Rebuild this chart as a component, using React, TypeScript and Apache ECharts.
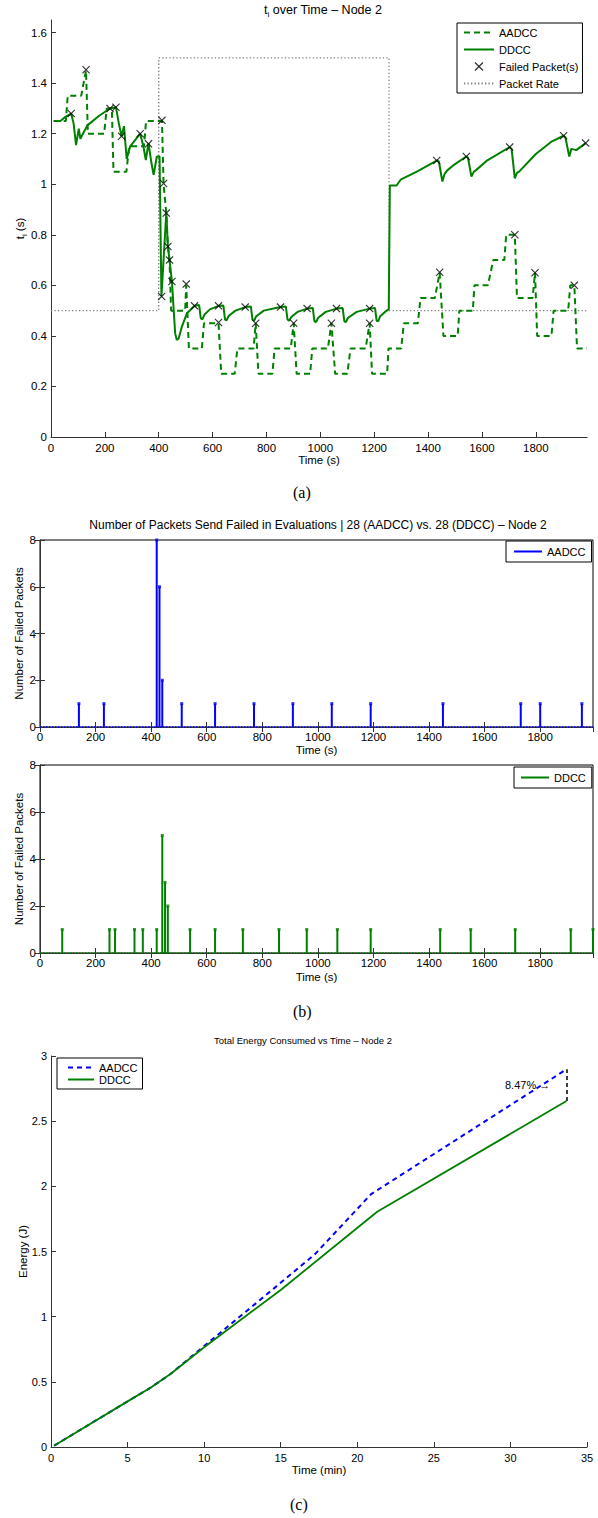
import React, { useEffect, useRef } from "react";
import * as echarts from "echarts";

// ---------- Data ----------
// (a) t_i over time, [time (s), t_i (s)]
const ddccTi: [number, number][] = [
  [10, 1.25], [35, 1.25], [55, 1.268], [75, 1.28], [84, 1.24], [93, 1.155], [103, 1.22], [109, 1.18],
  [135, 1.233], [180, 1.272], [219, 1.3], [241, 1.305], [252, 1.24], [262, 1.19], [271, 1.23], [281, 1.1],
  [294, 1.15], [331, 1.2], [343, 1.15], [352, 1.096], [362, 1.163], [372, 1.09], [381, 1.037], [393, 1.11],
  [403, 1.11], [410, 0.556], [428, 0.886], [434, 0.754], [440, 0.7], [449, 0.615], [461, 0.41], [467, 0.384],
  [474, 0.39], [486, 0.437], [505, 0.49], [533, 0.519], [550, 0.522], [556, 0.47], [562, 0.465], [570, 0.485],
  [590, 0.505], [622, 0.519], [640, 0.52], [646, 0.465], [652, 0.462], [660, 0.48], [685, 0.5], [721, 0.514],
  [742, 0.516], [748, 0.465], [754, 0.46], [762, 0.478], [790, 0.5], [852, 0.514], [872, 0.516], [878, 0.465],
  [884, 0.46], [892, 0.475], [915, 0.495], [951, 0.508], [972, 0.51], [978, 0.458], [984, 0.455], [992, 0.472],
  [1020, 0.495], [1060, 0.508], [1083, 0.51], [1089, 0.458], [1095, 0.455], [1103, 0.472], [1135, 0.495],
  [1183, 0.508], [1203, 0.51], [1209, 0.46], [1215, 0.458], [1222, 0.478], [1240, 0.495], [1254, 0.506],
  [1258, 0.995], [1283, 0.995], [1298, 1.018], [1360, 1.051], [1432, 1.094], [1440, 1.09], [1453, 1.011],
  [1461, 1.04], [1471, 1.055], [1500, 1.08], [1542, 1.11], [1548, 1.105], [1561, 1.03], [1570, 1.05],
  [1577, 1.055], [1620, 1.095], [1703, 1.147], [1710, 1.14], [1722, 1.023], [1730, 1.045], [1738, 1.05],
  [1800, 1.12], [1860, 1.17], [1903, 1.192], [1910, 1.185], [1924, 1.11], [1932, 1.14], [1940, 1.138],
  [1950, 1.135], [1985, 1.163],
];

const aadccTi: [number, number][] = [
  [10, 1.25], [55, 1.25], [62, 1.35], [112, 1.35], [130, 1.45], [137, 1.2], [197, 1.2], [207, 1.3],
  [226, 1.3], [232, 1.05], [280, 1.05], [290, 1.15], [345, 1.15], [353, 1.25], [403, 1.25], [412, 1.25],
  [418, 1.0], [428, 0.886], [434, 0.754], [440, 0.7], [446, 0.5], [498, 0.5], [502, 0.6], [512, 0.35],
  [560, 0.35], [568, 0.45], [622, 0.45], [632, 0.25], [682, 0.25], [692, 0.35], [752, 0.35], [760, 0.45],
  [770, 0.25], [822, 0.25], [830, 0.35], [890, 0.35], [901, 0.45], [912, 0.25], [962, 0.25], [970, 0.35],
  [1028, 0.35], [1041, 0.45], [1055, 0.25], [1100, 0.25], [1112, 0.35], [1168, 0.35], [1183, 0.45],
  [1192, 0.25], [1248, 0.25], [1253, 0.35], [1300, 0.35], [1310, 0.45], [1362, 0.45], [1372, 0.55],
  [1425, 0.55], [1443, 0.65], [1457, 0.4], [1510, 0.4], [1516, 0.5], [1566, 0.5], [1572, 0.6], [1622, 0.6],
  [1642, 0.7], [1683, 0.7], [1690, 0.8], [1722, 0.8], [1730, 0.55], [1788, 0.55], [1797, 0.65], [1805, 0.4],
  [1858, 0.4], [1866, 0.5], [1920, 0.5], [1928, 0.6], [1943, 0.6], [1953, 0.35], [1990, 0.35],
];

const failedMarks: [number, number][] = [
  [75, 1.28], [130, 1.453], [219, 1.3], [241, 1.305], [262, 1.19], [331, 1.2], [362, 1.16], [412, 1.253],
  [411, 0.556], [418, 1.003], [428, 0.886], [434, 0.754], [440, 0.7], [449, 0.615], [502, 0.605],
  [533, 0.519], [622, 0.519], [622, 0.453], [721, 0.514], [760, 0.45], [852, 0.514], [901, 0.45],
  [951, 0.508], [1041, 0.45], [1060, 0.508], [1183, 0.508], [1183, 0.45], [1432, 1.094], [1443, 0.652],
  [1542, 1.11], [1703, 1.147], [1722, 0.8], [1797, 0.65], [1903, 1.192], [1943, 0.6], [1985, 1.163],
];

const packetRate: [number, number][] = [
  [0, 0.5], [400, 0.5], [400, 1.5], [1255, 1.5], [1255, 0.5], [1990, 0.5],
];

// (b) failed packets per evaluation
const aadccFailTimes = [140, 230, 420, 430, 440, 510, 630, 770, 910, 1050, 1190, 1450, 1730, 1800, 1950];
const aadccFailCounts = [1, 1, 8, 6, 2, 1, 1, 1, 1, 1, 1, 1, 1, 1, 1];
const ddccFailTimes = [80, 250, 270, 340, 370, 420, 440, 450, 460, 540, 630, 730, 860, 960, 1070, 1190, 1440, 1550, 1710, 1910, 1990];
const ddccFailCounts = [1, 1, 1, 1, 1, 1, 5, 3, 2, 1, 1, 1, 1, 1, 1, 1, 1, 1, 1, 1, 1];
const stemBaseline: [number, number][] = [[0, 0], [1990, 0]];

// (c) total energy, [time (min), energy (J)]
const energyAadcc: [number, number][] = [
  [0.2, 0.01], [5, 0.35], [6.5, 0.455], [7.8, 0.56], [10, 0.775], [13, 1.065], [17.2, 1.475], [20.9, 1.94], [33.66, 2.898],
];
const energyDdcc: [number, number][] = [
  [0.2, 0.01], [5, 0.35], [6.5, 0.455], [7.8, 0.56], [10, 0.765], [15, 1.205], [21.3, 1.805], [33.66, 2.654],
];
const savingLabel = "8.47% \u2192";

// ---------- Styles ----------
const FONT = "'Liberation Sans', Arial, Helvetica, sans-serif";
const GREEN = "#008000";
const BLUE = "#0000ff";
const AXIS = "#333";
const FS = 11.5;
const X_SHAPE = "path://M0,1 L1,0 L5,4 L9,0 L10,1 L6,5 L10,9 L9,10 L5,6 L1,10 L0,9 L4,5 Z";
const HIDE_SYMBOL = { color: "rgba(0,0,0,0)", borderColor: "rgba(0,0,0,0)", borderWidth: 0 };

const tickInside = { show: true, inside: true, length: 5, lineStyle: { color: AXIS } };
const plainNum = (v: number) => String(v);

function xAxisBase(gridIndex: number, max: number, interval: number, extra: any = {}) {
  return {
    type: "value",
    gridIndex,
    min: 0,
    max,
    interval,
    splitLine: { show: false },
    axisLine: { show: true, onZero: false, lineStyle: { color: AXIS, width: 1 } },
    axisTick: tickInside,
    axisLabel: { color: "#000", fontSize: FS, margin: 5, showMaxLabel: false, fontFamily: FONT, formatter: plainNum },
    nameLocation: "middle",
    nameMoveOverlap: false,
    nameTextStyle: { color: "#000", fontSize: FS, fontFamily: FONT },
    ...extra,
  };
}

function yAxisBase(gridIndex: number, max: number, interval: number, extra: any = {}) {
  return {
    type: "value",
    gridIndex,
    min: 0,
    max,
    interval,
    splitLine: { show: false },
    axisLine: { show: true, onZero: false, lineStyle: { color: AXIS, width: 1 } },
    axisTick: tickInside,
    axisLabel: { color: "#000", fontSize: FS, margin: 4, showMaxLabel: false, fontFamily: FONT, formatter: plainNum },
    nameLocation: "middle",
    nameMoveOverlap: false,
    nameTextStyle: { color: "#000", fontSize: FS, fontFamily: FONT },
    ...extra,
  };
}

function stemSeries(name: string, times: number[], counts: number[], color: string, xi: number, yi: number) {
  const pts = times.map((t, i) => [t, counts[i]]);
  return [
    {
      type: "line",
      name,
      xAxisIndex: xi,
      yAxisIndex: yi,
      data: stemBaseline,
      symbol: "none",
      lineStyle: { color, width: 1.5, type: [1.5, 1.5] },
      itemStyle: { color },
      z: 2,
    },
    {
      type: "bar",
      name: name + "-stems",
      xAxisIndex: xi,
      yAxisIndex: yi,
      data: pts,
      barWidth: 2,
      itemStyle: { color },
      z: 3,
    },
    {
      type: "scatter",
      name: name + "-tops",
      xAxisIndex: xi,
      yAxisIndex: yi,
      data: pts,
      symbol: "rect",
      symbolSize: 3,
      itemStyle: { color },
      z: 4,
    },
  ];
}

const legendBase = {
  orient: "vertical",
  borderColor: "#000",
  borderWidth: 1,
  borderRadius: 0,
  backgroundColor: "#fff",
  textStyle: { fontSize: 11, color: "#000", fontFamily: FONT },
};

export default function App() {
  const ref = useRef<HTMLDivElement>(null);

  useEffect(() => {
    if (!ref.current) return;
    const chart = echarts.init(ref.current, undefined, { renderer: "svg" });

    const richSub = (fs: number) => ({
      n: { fontSize: fs, fontWeight: "normal", color: "#000", fontFamily: FONT, lineHeight: fs + 4, verticalAlign: "middle" },
      s: { fontSize: fs * 0.65, fontWeight: "normal", color: "#000", fontFamily: FONT, lineHeight: fs + 4, verticalAlign: "bottom" },
    });

    const option: any = {
      animation: false,
      backgroundColor: "#fff",
      textStyle: { fontFamily: FONT },
      title: [
        {
          text: "{n|t}{s|i}{n| over Time \u2013 Node 2}",
          left: 323,
          top: 2,
          textAlign: "center",
          padding: 0,
          textStyle: { fontWeight: "normal", rich: richSub(12.5) },
        },
        {
          text: "Number of Packets Send Failed in Evaluations | 28 (AADCC) vs. 28 (DDCC) \u2013 Node 2",
          left: 318,
          top: 519,
          textAlign: "center",
          padding: 0,
          textStyle: { fontSize: 12, fontWeight: "normal", color: "#000", fontFamily: FONT },
        },
        {
          text: "Total Energy Consumed vs Time \u2013 Node 2",
          left: 303,
          top: 1035,
          textAlign: "center",
          padding: 0,
          textStyle: { fontSize: 9.5, fontWeight: "normal", color: "#000", fontFamily: FONT },
        },
      ],
      grid: [
        { left: 51, top: 20, width: 536, height: 417 },
        { left: 40, top: 540, width: 553, height: 187, show: true, borderColor: "#000", borderWidth: 1 },
        { left: 40, top: 765, width: 553, height: 188, show: true, borderColor: "#000", borderWidth: 1 },
        { left: 51, top: 1056, width: 536, height: 391 },
      ],
      xAxis: [
        xAxisBase(0, 1990, 200, { name: "Time (s)", nameGap: 17 }),
        xAxisBase(1, 1990, 200, { name: "Time (s)", nameGap: 17, axisLabel: { color: "#000", fontSize: FS, margin: 4, showMaxLabel: false, fontFamily: FONT, formatter: plainNum } }),
        xAxisBase(1, 1990, 200, { position: "top", axisLabel: { show: false }, axisLine: { show: false } }),
        xAxisBase(2, 1990, 200, { name: "Time (s)", nameGap: 18, axisLabel: { color: "#000", fontSize: FS, margin: 4, showMaxLabel: false, fontFamily: FONT, formatter: plainNum } }),
        xAxisBase(2, 1990, 200, { position: "top", axisLabel: { show: false }, axisLine: { show: false } }),
        xAxisBase(3, 35, 5, { name: "Time (min)", nameGap: 17, axisLabel: { color: "#000", fontSize: 11, margin: 5, showMaxLabel: true, fontFamily: FONT, formatter: plainNum } }),
      ],
      yAxis: [
        yAxisBase(0, 1.65, 0.2, {
          name: "{n|t}{s|i}{n| (s)}",
          nameGap: 23,
          nameTextStyle: { rich: richSub(FS) },
        }),
        yAxisBase(1, 8, 2, { name: "Number of Failed Packets", nameGap: 15, axisLabel: { color: "#000", fontSize: FS, margin: 4, showMaxLabel: true, fontFamily: FONT, formatter: plainNum } }),
        yAxisBase(1, 8, 2, { position: "right", axisLabel: { show: false }, axisLine: { show: false } }),
        yAxisBase(2, 8, 2, { name: "Number of Failed Packets", nameGap: 15, axisLabel: { color: "#000", fontSize: FS, margin: 4, showMaxLabel: true, fontFamily: FONT, formatter: plainNum } }),
        yAxisBase(2, 8, 2, { position: "right", axisLabel: { show: false }, axisLine: { show: false } }),
        yAxisBase(3, 3, 0.5, { name: "Energy (J)", nameGap: 22, axisLabel: { color: "#000", fontSize: 11, margin: 4, showMaxLabel: true, fontFamily: FONT, formatter: plainNum } }),
      ],
      legend: [
        {
          ...legendBase,
          left: 457,
          top: 23,
          data: [
            { name: "AADCC", itemStyle: HIDE_SYMBOL },
            { name: "DDCC", itemStyle: HIDE_SYMBOL },
            { name: "Failed Packet(s)" },
            { name: "Packet Rate", itemStyle: HIDE_SYMBOL },
          ],
          itemWidth: 30,
          itemHeight: 9,
          itemGap: 6,
          padding: [4, 4, 4, 6],
        },
        {
          ...legendBase,
          left: 506,
          top: 541,
          data: [{ name: "AADCC-b", itemStyle: HIDE_SYMBOL, lineStyle: { type: "solid", width: 2 } }],
          formatter: () => "AADCC",
          itemWidth: 28,
          itemHeight: 9,
          padding: [5, 6, 5, 7],
        },
        {
          ...legendBase,
          left: 514,
          top: 767,
          data: [{ name: "DDCC-b", itemStyle: HIDE_SYMBOL, lineStyle: { type: "solid", width: 2 } }],
          formatter: () => "DDCC",
          itemWidth: 28,
          itemHeight: 9,
          padding: [5, 6, 5, 6],
        },
        {
          ...legendBase,
          left: 57,
          top: 1058,
          data: [
            { name: "AADCC-c", itemStyle: HIDE_SYMBOL },
            { name: "DDCC-c", itemStyle: HIDE_SYMBOL },
          ],
          formatter: (n: string) => n.replace("-c", ""),
          itemWidth: 26,
          itemHeight: 13,
          itemGap: 1,
          padding: [4, 5, 4, 10],
        },
      ],
      graphic: [
        { type: "text", left: 293, top: 484, style: { text: "(a)", font: "16px 'Liberation Serif', 'Times New Roman', serif", fill: "#000" } },
        { type: "text", left: 293, top: 1003, style: { text: "(b)", font: "16px 'Liberation Serif', 'Times New Roman', serif", fill: "#000" } },
        { type: "text", left: 290, top: 1496, style: { text: "(c)", font: "16px 'Liberation Serif', 'Times New Roman', serif", fill: "#000" } },
      ],
      series: [
        {
          type: "line",
          name: "Packet Rate",
          xAxisIndex: 0,
          yAxisIndex: 0,
          data: packetRate,
          symbol: "none",
          lineStyle: { color: "#808080", width: 1.3, type: [1.3, 2.2] },
          itemStyle: { color: "#808080" },
          z: 1,
        },
        {
          type: "line",
          name: "AADCC",
          xAxisIndex: 0,
          yAxisIndex: 0,
          data: aadccTi,
          symbol: "none",
          lineStyle: { color: GREEN, width: 2, type: [6, 4] },
          itemStyle: { color: GREEN },
          z: 2,
        },
        {
          type: "line",
          name: "DDCC",
          xAxisIndex: 0,
          yAxisIndex: 0,
          data: ddccTi,
          symbol: "none",
          lineStyle: { color: GREEN, width: 2 },
          itemStyle: { color: GREEN },
          z: 3,
        },
        {
          type: "scatter",
          name: "Failed Packet(s)",
          xAxisIndex: 0,
          yAxisIndex: 0,
          data: failedMarks,
          symbol: X_SHAPE,
          symbolSize: 8,
          itemStyle: { color: "#000" },
          z: 5,
        },
        ...stemSeries("AADCC-b", aadccFailTimes, aadccFailCounts, BLUE, 1, 1),
        ...stemSeries("DDCC-b", ddccFailTimes, ddccFailCounts, GREEN, 3, 3),
        {
          type: "line",
          name: "AADCC-c",
          xAxisIndex: 5,
          yAxisIndex: 5,
          data: energyAadcc,
          symbol: "none",
          lineStyle: { color: BLUE, width: 2, type: [5, 4] },
          itemStyle: { color: BLUE },
          z: 2,
          markLine: {
            silent: true,
            symbol: "none",
            label: { show: false },
            lineStyle: { color: "#000", width: 1.5, type: [4, 3] },
            data: [[{ coord: [energyAadcc[energyAadcc.length - 1][0], energyDdcc[energyDdcc.length - 1][1]] }, { coord: energyAadcc[energyAadcc.length - 1] }]],
          },
          markPoint: {
            silent: true,
            symbol: "rect",
            symbolSize: 0,
            z: 10,
            label: { show: true, position: "left", distance: 0, formatter: savingLabel, color: "#000", fontSize: 11, fontFamily: FONT },
            data: [{ coord: [32.6, 2.775] }],
          },
        },
        {
          type: "line",
          name: "DDCC-c",
          xAxisIndex: 5,
          yAxisIndex: 5,
          data: energyDdcc,
          symbol: "none",
          lineStyle: { color: GREEN, width: 1.8 },
          itemStyle: { color: GREEN },
          z: 3,
        },
      ],
    };

    chart.setOption(option);
    return () => chart.dispose();
  }, []);

  return (
    <div
      ref={ref}
      style={{ position: "absolute", left: 0, top: 0, width: 598, height: 1518, background: "#fff" }}
    />
  );
}
